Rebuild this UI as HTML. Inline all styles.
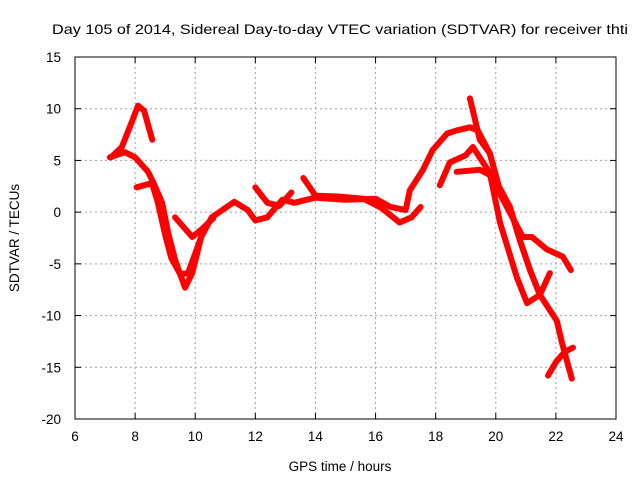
<!DOCTYPE html>
<html><head><meta charset="utf-8"><style>
body{margin:0;background:#fff;}
svg text{font-family:"Liberation Sans",sans-serif;fill:#000;}
</style></head><body>
<svg id="chart" width="640" height="480" viewBox="0 0 640 480" xmlns="http://www.w3.org/2000/svg">
<text x="52" y="34" font-size="14" textLength="576" lengthAdjust="spacingAndGlyphs">Day 105 of 2014, Sidereal Day-to-day VTEC variation (SDTVAR) for receiver thti</text>
<g id="grid"></g>
<g id="series"></g>
<rect x="75" y="57" width="541" height="362" fill="none" stroke="#000" stroke-width="1"/>
<g id="ticks"></g>
<text x="340" y="471" font-size="13.5" text-anchor="middle">GPS time / hours</text>
<text transform="translate(19,238) rotate(-90)" font-size="13.5" text-anchor="middle">SDTVAR / TECUs</text>
</svg>
<script>
const xTicks=[6,8,10,12,14,16,18,20,22,24];
const yTicks=[15,10,5,0,-5,-10,-15,-20];
const seriesA=[[7.2,5.3],[7.56,6.3],[7.9,8.8],[8.1,10.3],[8.3,9.8],[8.57,7.0]];
const seriesB=[[7.16,5.3],[7.66,5.8],[8.0,5.3],[8.43,3.9],[8.6,2.9],[8.9,0.9],[9.1,-2],[9.33,-4.6],[9.66,-7.3],[9.9,-5.9],[10.2,-2.4],[10.55,-0.5],[11.3,1],[11.75,0.2],[12.0,-0.8],[12.4,-0.5],[12.9,1.2],[13.3,0.9],[13.98,1.4],[14.98,1.2],[16.0,1.3],[16.5,0.5],[17.0,0.2],[17.14,2.1],[17.58,4.1],[17.9,6],[18.38,7.6],[18.7,7.9],[19.14,8.2],[19.4,7.9],[19.8,5.7],[20.1,2.5],[20.47,0.5],[20.8,-2.7],[21.14,-5.6],[21.47,-8],[21.8,-5.9]];
const seriesC=[[8.05,2.4],[8.56,2.8],[8.75,1.0],[9.0,-2.2],[9.2,-4.4],[9.5,-6.0],[9.76,-5.9],[10.0,-4],[10.3,-1.6]];
const seriesD=[[9.33,-0.5],[9.9,-2.4],[10.2,-1.7],[10.6,-0.6]];
const seriesE=[[12.0,2.4],[12.4,0.9],[12.8,0.6],[13.2,1.9]];
const seriesF=[[13.6,3.3],[14.0,1.6],[14.8,1.5],[15.6,1.3],[16.2,0.4],[16.8,-1.0],[17.2,-0.5],[17.5,0.5]];
const seriesG=[[18.14,2.6],[18.47,4.8],[19.0,5.5],[19.24,6.3],[19.8,3.8],[20.14,-1],[20.7,-6.3],[21.04,-8.8],[21.47,-8],[22.03,-10.5],[22.2,-12.6],[22.53,-16.1]];
const seriesH=[[18.7,3.9],[19.47,4.1],[19.8,3.6],[20.37,0.5],[20.9,-2.4],[21.2,-2.4],[21.7,-3.6],[22.23,-4.3],[22.5,-5.6]];
const seriesI=[[21.74,-15.8],[22.0,-14.5],[22.3,-13.5],[22.57,-13.1]];
const seriesJ=[[19.14,11],[19.47,7],[19.8,5.7],[20.1,2.5],[20.47,0.5],[20.8,-2.7],[21.14,-5.6],[21.47,-8]];
const allSeries=[seriesA,seriesB,seriesC,seriesD,seriesE,seriesF,seriesG,seriesH,seriesI,seriesJ];
const X0=75,X1=616,Y0=57,Y1=419;
const xs=h=>X0+(h-6)/(24-6)*(X1-X0);
const ys=v=>Y0+(15-v)/(35)*(Y1-Y0);
const NS="http://www.w3.org/2000/svg";
const grid=document.getElementById('grid'),ticks=document.getElementById('ticks'),ser=document.getElementById('series');
function mk(t,a,p){const e=document.createElementNS(NS,t);for(const k in a)e.setAttribute(k,a[k]);p.appendChild(e);return e;}
xTicks.forEach(t=>{const x=xs(t);
 if(t>6&&t<24){const g=mk('line',{x1:x,x2:x,y1:Y0,y2:Y1,stroke:'#a0a0a0','stroke-dasharray':'2,3'},grid);
 
 }
 const tl=mk('text',{x:x,y:441,'font-size':'13.5','text-anchor':'middle'},ticks);tl.textContent=t;
 
 
 mk('line',{x1:x,x2:x,y1:Y1,y2:Y1-6,stroke:'#000'},ticks);mk('line',{x1:x,x2:x,y1:Y0,y2:Y0+6,stroke:'#000'},ticks);});
yTicks.forEach(t=>{const y=ys(t);
 if(t<15&&t>-20){const g=mk('line',{x1:X0,x2:X1,y1:y,y2:y,stroke:'#a0a0a0','stroke-dasharray':'2,3'},grid);
 
 }
 const tl=mk('text',{x:61,y:y+5,'font-size':'13.5','text-anchor':'end'},ticks);tl.textContent=t;
 
 
 mk('line',{x1:X0,x2:X0+6,y1:y,y2:y,stroke:'#000'},ticks);mk('line',{x1:X1,x2:X1-6,y1:y,y2:y,stroke:'#000'},ticks);});
allSeries.forEach((s,i)=>{
 const p=mk('polyline',{points:s.map(d=>xs(d[0])+','+ys(d[1])).join(' '),fill:'none',stroke:'#ff0000','stroke-width':'6','stroke-linejoin':'round','stroke-linecap':'round'},ser);
 
 
});
</script>
</body></html>
